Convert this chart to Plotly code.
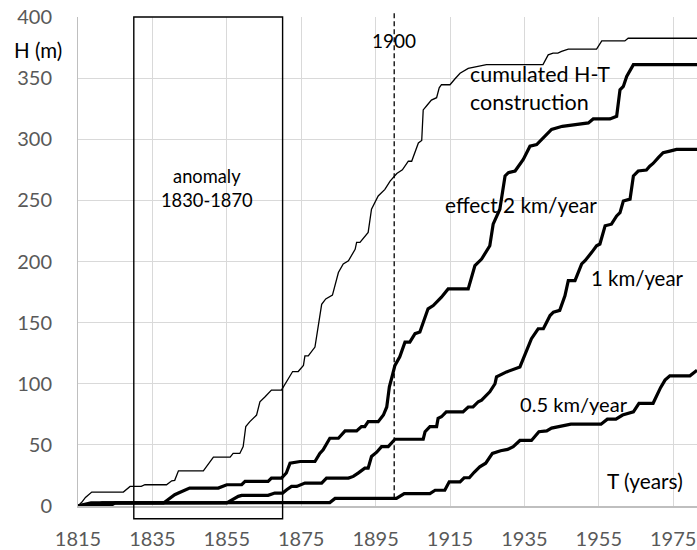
import plotly.graph_objects as go

# ---- data ----
x_ticks = [1815, 1835, 1855, 1875, 1895, 1915, 1935, 1955, 1975]
y_ticks = [0, 50, 100, 150, 200, 250, 300, 350, 400]

years_ht = [1815, 1816, 1817, 1818.7, 1827.2, 1829, 1832, 1833, 1838.8, 1840.2, 1841, 1842,
            1848.7, 1851.4, 1855.9, 1856.7, 1858.5, 1859.4, 1860.1, 1861.2, 1863, 1863.9,
            1865.3, 1867, 1869.7, 1871.5, 1872.7, 1874.2, 1875.6, 1876, 1876.9, 1878.7,
            1879.1, 1880.5, 1881.6, 1883.4, 1885, 1886.3, 1887.7, 1889.5, 1889.9, 1890.8,
            1893, 1893.9, 1895.7, 1897.5, 1898.9, 1900.7, 1902.2, 1903.8, 1904.7, 1906.5,
            1907.4, 1907.8, 1908.9, 1910, 1911.4, 1912.1, 1912.7, 1915, 1916.3, 1917.7,
            1919.9, 1924.8, 1940, 1941.4, 1942.7, 1944, 1945, 1946.8, 1954.4, 1955.8, 1962,
            1962.9, 1981.4]
h_ht = [0, 3, 7, 11.4, 11.4, 16, 16, 17.4, 17.4, 20.6, 21, 28.8,
        28.8, 40, 40, 43, 43, 48.6, 65, 69, 74.4, 85.3,
        89.4, 94.8, 94.8, 104.3, 110, 110, 115, 122.8, 122.8, 130,
        138, 165, 169.4, 172.5, 191, 198, 200.6, 210, 215.6, 215.6,
        223.8, 242.8, 253.6, 259, 265.8, 272, 275, 282, 282, 297,
        299, 324, 328, 332, 334, 342, 344.6, 344.6, 349.3, 354,
        358, 361, 361, 369, 370.4, 370.4, 371.8, 373.7, 373.7, 380.4, 380.4,
        382.6, 382.6]

years_2km = [1815, 1818.5, 1838, 1841, 1842, 1843.8, 1845, 1852.7, 1855, 1859, 1859.9, 1866.1,
             1867, 1869.7, 1871, 1872, 1874.7, 1878.7, 1880, 1880.9, 1882.7, 1885, 1886.8,
             1889.9, 1891.2, 1892.1, 1893, 1895.7, 1897.1, 1898, 1898.7, 1899.3, 1900.2,
             1901.5, 1902.9, 1904.2, 1905.6, 1906.9, 1909.1, 1910.5, 1912.7, 1914.5, 1919.9,
             1921.7, 1923.5, 1925.7, 1926.6, 1928.4, 1929.8, 1930.7, 1932.5, 1934.7, 1936.5,
             1938.3, 1941.4, 1942.3, 1945.2, 1952.2, 1953.5, 1958, 1959.8, 1960.7, 1961.6,
             1962.5, 1964.3, 1981.4]
h_2km = [0, 2.5, 2.5, 9.2, 10.6, 13.3, 14.7, 14.7, 17.4, 17.4, 20.1, 20.1,
         22.8, 22.8, 27, 35, 36.4, 36.4, 43, 45.9, 55.4, 55.4, 61.4,
         61.4, 65, 65, 69, 69, 74.4, 81, 97.5, 104.3, 115,
         122, 134, 134, 141, 142.3, 161.3, 164, 170.8, 177.6, 177.6,
         196.6, 202, 212.9, 230.5, 242.8, 270, 272.7, 274, 283.5, 294.3,
         295.7, 305.3, 308, 310.6, 313.4, 316.6, 316.6, 318.8, 340.5, 343.2,
         351.4, 361, 361]

years_1km = [1815, 1817, 1820, 1821.5, 1855, 1858.1, 1859, 1866.1, 1867.9, 1870, 1871.1, 1872.4,
             1873.8, 1876, 1880.5, 1881.8, 1887.7, 1889, 1890.3, 1892.1, 1893, 1893.9, 1895.3,
             1896.6, 1898.4, 1900.2, 1907.8, 1908.3, 1909.6, 1911.4, 1911.8, 1912.7, 1914,
             1918.5, 1919.9, 1921.2, 1922.6, 1923.5, 1925.7, 1927.1, 1927.5, 1930.2, 1933.8,
             1935.1, 1936.9, 1938.7, 1940.1, 1941.9, 1942.8, 1944.5, 1945.9, 1946.8, 1948.6,
             1950.4, 1951.3, 1953.1, 1954.4, 1955.3, 1956.2, 1956.7, 1958.4, 1959.8, 1960.7,
             1961.6, 1963.4, 1964.3, 1965.6, 1967.8, 1968.7, 1969.6, 1971, 1972.3, 1974.1,
             1975.9, 1981.4]
h_1km = [0, 1, 1, 2.5, 2.5, 7.9, 8.7, 8.7, 10.6, 10.6, 13.3, 16,
         16, 18.7, 18.7, 22.8, 22.8, 24.2, 26.9, 31, 31, 40.5, 44,
         48.6, 48.6, 54.6, 54.6, 60.8, 65, 65, 71.7, 73, 77,
         77, 81, 81, 85.3, 86.6, 93.4, 100, 105.6, 109.7, 113.8,
         123.3, 136.9, 145, 145, 155.8, 158.6, 160, 172, 184.4, 184.4,
         198, 200.6, 207.5, 212.9, 214.3, 223.8, 229.2, 230.5, 237.3, 240,
         249.5, 251, 270, 274, 274.8, 278, 280.2, 285, 289, 290.3,
         291.7, 291.7]

years_05km = [1815, 1820, 1824, 1825, 1882.7, 1884.1, 1900.6, 1902.7, 1909.6, 1911, 1913.6,
              1914.8, 1917.7, 1918.8, 1920.2, 1921.5, 1923, 1924.6, 1926.4, 1928.6, 1930.5,
              1932, 1933.8, 1936.9, 1938.9, 1941, 1942.3, 1947.5, 1955.6, 1957.3, 1959.6,
              1961.4, 1964.3, 1965.8, 1969.6, 1971.6, 1972.8, 1974.1, 1979.5, 1981.4]
h_05km = [0, 0.5, 0.8, 2.5, 2.8, 6.2, 6.2, 10.2, 10.2, 12.9, 12.9,
          19.8, 19.8, 23.1, 23.1, 27.6, 32, 35, 43, 45.2, 46.3,
          48.6, 53.6, 53.6, 60.8, 61.5, 63.7, 66.9, 66.9, 71, 71,
          74.4, 77, 84, 84, 96.8, 103, 106.5, 106.5, 111]

anomaly_start, anomaly_end = 1830, 1870
marker_year = 1900

for a, b in [(years_ht, h_ht), (years_2km, h_2km), (years_1km, h_1km), (years_05km, h_05km)]:
    assert len(a) == len(b), (len(a), len(b))

FONT = "Lato"
fig = go.Figure()

fig.add_trace(go.Scatter(x=years_ht, y=h_ht, mode="lines",
                         line=dict(color="black", width=1.3), name="cumulated H-T construction"))
for xs, ys, nm in [(years_2km, h_2km, "2 km/year"), (years_1km, h_1km, "1 km/year"),
                   (years_05km, h_05km, "0.5 km/year")]:
    fig.add_trace(go.Scatter(x=xs, y=ys, mode="lines",
                             line=dict(color="black", width=3.2), name=nm))

# anomaly box and 1900 dashed marker
fig.add_shape(type="rect", xref="x", yref="paper", x0=anomaly_start, x1=anomaly_end,
              y0=-0.026, y1=1.0, line=dict(color="black", width=1.4), fillcolor="rgba(0,0,0,0)")
fig.add_shape(type="line", xref="x", yref="paper", x0=marker_year, x1=marker_year,
              y0=0.016, y1=1.011, line=dict(color="black", width=1.3, dash="5px,3px"))

def f(size):
    return dict(family=FONT, size=size, color="black")

common = dict(showarrow=False, xanchor="center", yanchor="middle")
fig.add_annotation(text="H (m)", xref="paper", yref="paper", x=-0.0646, y=0.933,
                   font=f(20.5), **common)
fig.add_annotation(text="1900", xref="x", yref="y", x=1900, y=381, font=f(19), **common)
fig.add_annotation(text="cumulated H-T<br>construction", xref="x", yref="y", x=1919.8, y=342,
                   showarrow=False, xanchor="left", yanchor="middle", align="left", font=f(21.5))
fig.add_annotation(text="anomaly<br>1830-1870", xref="x", yref="y", x=1849.6, y=260,
                   font=f(18.3), **common)
fig.add_annotation(text="effect 2 km/year", xref="x", yref="y", x=1934.1, y=246.8,
                   font=f(20.8), **common)
fig.add_annotation(text="1 km/year", xref="x", yref="y", x=1965.5, y=186.6, font=f(20.4), **common)
fig.add_annotation(text="0.5 km/year", xref="x", yref="y", x=1948.2, y=83.1, font=f(20.1), **common)
fig.add_annotation(text="T (years)", xref="x", yref="y", x=1967.4, y=21.2, font=f(20.8), **common)

fig.update_layout(
    width=697, height=550,
    margin=dict(l=78, r=0, t=17, b=42),
    paper_bgcolor="white", plot_bgcolor="white",
    showlegend=False,
    font=dict(family=FONT, size=20, color="#595959"),
    xaxis=dict(range=[1815, 1981.4], tickvals=x_ticks, ticktext=[str(v) for v in x_ticks],
               showgrid=True, gridcolor="#d9d9d9", gridwidth=1,
               showline=True, linecolor="#bfbfbf", linewidth=1.5,
               ticks="outside", ticklen=14, tickcolor="rgba(0,0,0,0)",
               zeroline=False, tickfont=dict(family=FONT, size=20, color="#595959")),
    yaxis=dict(range=[0, 400], tickvals=y_ticks, ticktext=[str(v) for v in y_ticks],
               showgrid=True, gridcolor="#d9d9d9", gridwidth=1,
               showline=True, linecolor="#bfbfbf", linewidth=1,
               ticks="outside", ticklen=21, tickcolor="rgba(0,0,0,0)",
               zeroline=False, tickfont=dict(family=FONT, size=20, color="#595959")),
)

fig.write_html("out.html", config={"displayModeBar": False},
               post_script="document.body.style.margin='0';")
